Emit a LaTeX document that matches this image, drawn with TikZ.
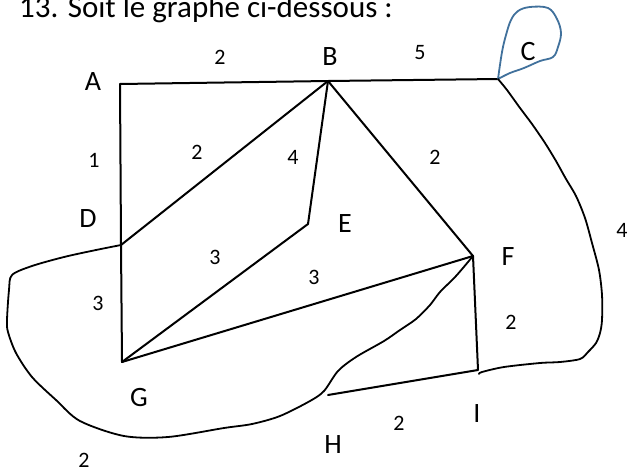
\documentclass[tikz,border=0pt]{standalone}
\usepackage{fontspec}
\setmainfont{Carlito}
\definecolor{loopblue}{HTML}{41719C}
\begin{document}
\begin{tikzpicture}[x=1pt,y=-1pt,
  edge/.style={line width=2pt,line cap=round,line join=round},
  wavy/.style={line width=1.8pt,line cap=round,line join=round},
  lbl/.style={font=\fontsize{28}{28}\selectfont,inner sep=0pt},
  wt/.style={font=\fontsize{22}{22}\selectfont,inner sep=0pt}]
\useasboundingbox (0,0) rectangle (628,469);
\node[anchor=base west,inner sep=0pt,font=\fontsize{31}{31}\selectfont] (title) at (19,17) {13. Soit le graphe ci-dessous :};
% vertices
\coordinate (A) at (120,84);
\coordinate (B) at (328,81);
\coordinate (C) at (498,79);
\coordinate (D) at (121,245);
\coordinate (E) at (308,224);
\coordinate (F) at (473,256);
\coordinate (G) at (122,362);
\coordinate (H) at (328,395);
\coordinate (I) at (478,370);
\coordinate (Iend) at (479,374);
% vertex labels
\node[lbl] (lA) at (93,82) {A};
\node[lbl] (lB) at (330,57) {B};
\node[lbl] (lC) at (528,52) {C};
\node[lbl] (lD) at (88,219) {D};
\node[lbl] (lE) at (345,224) {E};
\node[lbl] (lF) at (508,257) {F};
\node[lbl] (lG) at (139,398) {G};
\node[lbl] (lH) at (333,445) {H};
\node[lbl] (lI) at (477,414) {I};
% weights
\node[wt] (wAB) at (220,57) {2};
\node[wt] (wBC) at (420,53) {5};
\node[wt] (wAD) at (94,160) {1};
\node[wt] (wBD) at (197,152) {2};
\node[wt] (wBE) at (293,157) {4};
\node[wt] (wBF) at (435,157) {2};
\node[wt] (wEG) at (215,257) {3};
\node[wt] (wGF) at (314,277) {3};
\node[wt] (wDG) at (98,303) {3};
\node[wt] (wFI) at (511,322) {2};
\node[wt] (wHI) at (399,423) {2};
\node[wt] (wDH) at (84,460) {2};
\node[wt] (wCI) at (622,230) {4};
% straight edges
\draw[edge] (A) -- (B) -- (C);
\draw[edge] (A) -- (D) -- (G);
\draw[edge] (B) -- (D);
\draw[edge] (B) -- (E) -- (G);
\draw[edge] (B) -- (F) -- (G);
\draw[edge] (F) -- (I) -- (H);
% loop at C
\draw[line width=1.8pt,loopblue,line cap=round,line join=round] plot[smooth,tension=0.6] coordinates {
  (498,79) (502,52) (506,35) (511,20) (518,11) (530,7) (548,8) (557,19) (561,33) (558,47) (553,57) (540,61) (524,68) (510,73) (498,79)};
% right curve C to I
\draw[wavy] plot[smooth,tension=0.5] coordinates {
  (C) (507,90) (520,108) (532,124) (545,143) (556,161) (566,179) (576,196) (585,218) (592,243) (599,270) (602,295) (602,320) (600,333) (596,343) (588,352) (580,359) (560,362) (540,363) (504,367) (482,372) (Iend)};
% left curve D around to H and up to F
\draw[wavy] plot[smooth,tension=0.5] coordinates {
  (D) (96,250) (64,257) (32,266) (12,275) (9,290) (7,320) (8,332) (16,353) (32,377) (56,400) (80,421) (124,436) (168,437) (224,428) (252,424) (280,416) (310,401) (324,391) (338,371) (356,357) (384,341) (400,330) (416,319) (430,305) (440,292) (456,276) (F)};
\end{tikzpicture}
\end{document}
